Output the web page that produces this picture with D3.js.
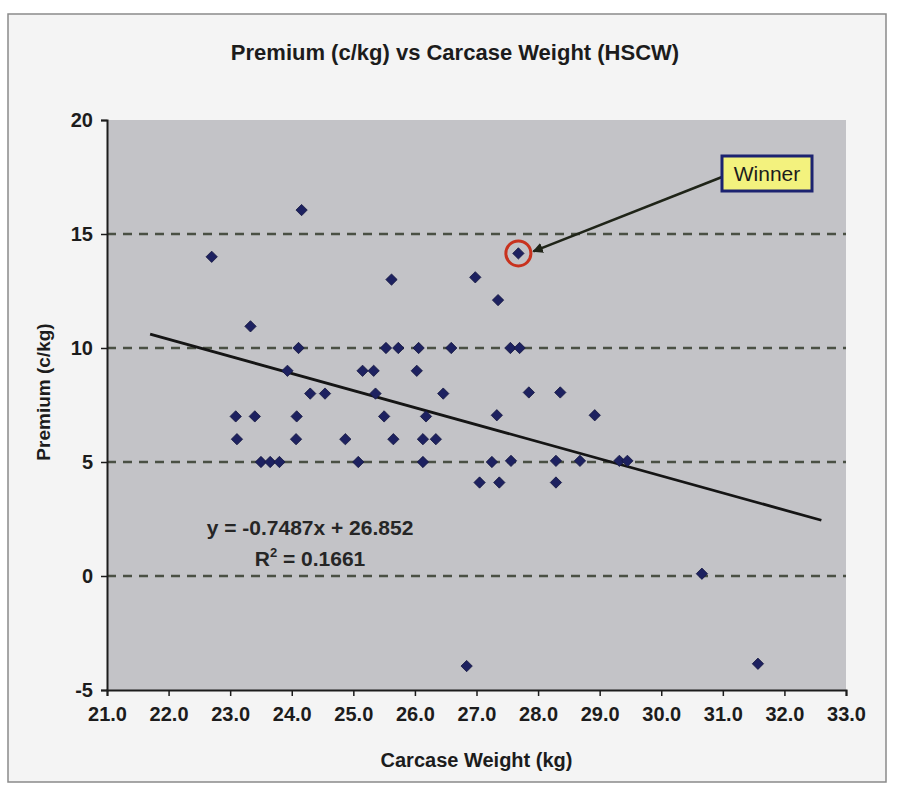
<!DOCTYPE html>
<html>
<head>
<meta charset="utf-8">
<script src="https://cdn.jsdelivr.net/npm/d3@7"></script>
<style>
  html, body { margin: 0; padding: 0; background: #ffffff; }
  svg { display: block; }
  text { font-family: "Liberation Sans", Arial, Helvetica, sans-serif; }
</style>
</head>
<body>
<svg id="chart" width="900" height="791"></svg>
<script>
// ---- data ----
const weights = [22.7, 24.16, 23.33, 25.62, 26.98, 27.35, 27.68,
  24.11, 25.53, 25.73, 26.06, 26.59, 27.55, 27.7,
  23.93, 25.15, 25.33, 26.03,
  24.30, 24.54, 25.36, 26.46, 27.85, 28.36,
  23.09, 23.40, 24.08, 25.50, 26.18, 27.33, 28.92,
  23.11, 24.07, 24.87, 25.65, 26.13, 26.34,
  23.5, 23.65, 23.8, 25.08, 26.13, 27.25, 27.56, 28.29, 28.68, 29.32, 29.45,
  27.05, 27.37, 28.29,
  26.84, 30.66, 31.57];
const premiums = [14.0, 16.05, 10.95, 13.0, 13.1, 12.1, 14.15,
  10.0, 10.0, 10.0, 10.0, 10.0, 10.0, 10.0,
  9.0, 9.0, 9.0, 9.0,
  8.0, 8.0, 8.0, 8.0, 8.05, 8.05,
  7.0, 7.0, 7.0, 7.0, 7.0, 7.05, 7.05,
  6.0, 6.0, 6.0, 6.0, 6.0, 6.0,
  5.0, 5.0, 5.0, 5.0, 5.0, 5.0, 5.05, 5.05, 5.05, 5.05, 5.05,
  4.1, 4.1, 4.1,
  -3.95, 0.1, -3.85];
const winner = [27.68, 14.15];
const xTicks = [21, 22, 23, 24, 25, 26, 27, 28, 29, 30, 31, 32, 33];
const yTicks = [-5, 0, 5, 10, 15, 20];
const gridValues = [0, 5, 10, 15];
const trendSlope = -0.7487;
const trendIntercept = 26.852;
const trendRange = [21.7, 32.6];
const titleText = "Premium (c/kg) vs Carcase Weight (HSCW)";
const xTitle = "Carcase Weight (kg)";
const yTitle = "Premium (c/kg)";
const eqLine1 = "y = -0.7487x + 26.852";
const rSquared = "0.1661";
const winnerLabel = "Winner";

// ---- layout ----
const svg = d3.select("#chart");
const plot = { left: 107, right: 846, top: 120, bottom: 690 };
const x = d3.scaleLinear().domain([21, 33]).range([plot.left, plot.right]);
const y = d3.scaleLinear().domain([-5, 20]).range([plot.bottom, plot.top]);
const ink = "#1c1c1c";

// page / chart frame
svg.append("rect").attr("x", 0).attr("y", 0).attr("width", 900).attr("height", 791).attr("fill", "#ffffff");
svg.append("rect").attr("x", 8).attr("y", 14).attr("width", 878).attr("height", 768)
  .attr("fill", "#f4f4f4").attr("stroke", "#8a8a8a").attr("stroke-width", 1.5);

// title
svg.append("text").attr("x", 455).attr("y", 60).attr("text-anchor", "middle")
  .attr("font-size", 22).attr("font-weight", "bold").attr("fill", ink).text(titleText);

// plot area
svg.append("rect").attr("x", plot.left).attr("y", plot.top)
  .attr("width", plot.right - plot.left).attr("height", plot.bottom - plot.top)
  .attr("fill", "#c3c3c7");

// dashed gridlines
svg.append("g").selectAll("line").data(gridValues).join("line")
  .attr("x1", plot.left).attr("x2", plot.right)
  .attr("y1", d => y(d)).attr("y2", d => y(d))
  .attr("stroke", "#4a5044").attr("stroke-width", 2.4)
  .attr("stroke-dasharray", "9,7");

// axes
const xAxis = d3.axisBottom(x).tickValues(xTicks).tickFormat(d3.format(".1f")).tickSize(6).tickPadding(11);
const yAxis = d3.axisLeft(y).tickValues(yTicks).tickFormat(d => String(d)).tickSize(6).tickPadding(8);
const gx = svg.append("g").attr("transform", `translate(0,${plot.bottom})`).call(xAxis);
const gy = svg.append("g").attr("transform", `translate(${plot.left},0)`).call(yAxis);
[gx, gy].forEach(g => {
  g.select(".domain").attr("stroke", ink).attr("stroke-width", 2);
  g.selectAll(".tick line").attr("stroke", ink).attr("stroke-width", 1.5);
  g.selectAll(".tick text").attr("fill", ink).attr("font-size", 20).attr("font-weight", "bold")
    .attr("font-family", "'Liberation Sans', Arial, sans-serif");
});

// axis titles
svg.append("text").attr("x", x(27)).attr("y", 767).attr("text-anchor", "middle")
  .attr("font-size", 20).attr("font-weight", "bold").attr("fill", ink).text(xTitle);
svg.append("text").attr("transform", `translate(50,392) rotate(-90)`)
  .attr("text-anchor", "middle").attr("font-size", 19).attr("font-weight", "bold").attr("fill", ink).text(yTitle);

// trendline
const line = d3.line().x(d => x(d)).y(d => y(trendSlope * d + trendIntercept));
svg.append("path").datum(trendRange).attr("d", line)
  .attr("fill", "none").attr("stroke", "#151515").attr("stroke-width", 2.8);

// points (square diamonds)
const squareDiamond = {
  draw(ctx, size) {
    const r = Math.sqrt(size / 2);
    ctx.moveTo(0, -r); ctx.lineTo(r, 0); ctx.lineTo(0, r); ctx.lineTo(-r, 0); ctx.closePath();
  }
};
const pts = weights.map((w, i) => [w, premiums[i]]);
svg.append("g").selectAll("path").data(pts).join("path")
  .attr("transform", d => `translate(${x(d[0])},${y(d[1])})`)
  .attr("d", d3.symbol().type(squareDiamond).size(64))
  .attr("fill", "#1d2160").attr("stroke", "#14173f").attr("stroke-width", 0.8);

// equation
svg.append("text").attr("x", 310).attr("y", 535).attr("text-anchor", "middle")
  .attr("font-size", 21).attr("font-weight", "bold").attr("fill", "#262626").text(eqLine1);
const r2 = svg.append("text").attr("x", 310).attr("y", 566).attr("text-anchor", "middle")
  .attr("font-size", 21).attr("font-weight", "bold").attr("fill", "#262626");
r2.append("tspan").text("R");
r2.append("tspan").attr("font-size", 13).attr("dy", -9).text("2");
r2.append("tspan").attr("dy", 9).text(" = " + rSquared);

// winner annotation
const wx = x(winner[0]), wy = y(winner[1]);
svg.append("circle").attr("cx", wx).attr("cy", wy).attr("r", 12.5)
  .attr("fill", "none").attr("stroke", "#c8321e").attr("stroke-width", 3);
svg.append("defs").append("marker").attr("id", "ah").attr("viewBox", "0 0 10 10")
  .attr("refX", 9).attr("refY", 5).attr("markerWidth", 4).attr("markerHeight", 4)
  .attr("orient", "auto").append("path").attr("d", "M0,0 L10,5 L0,10 Z").attr("fill", "#1f2418");
const box = { x: 722, y: 156, w: 90, h: 35 };
svg.append("line").attr("x1", box.x).attr("y1", box.y + 21).attr("x2", wx + 15).attr("y2", wy - 2)
  .attr("stroke", "#1f2418").attr("stroke-width", 2.6).attr("marker-end", "url(#ah)");
svg.append("rect").attr("x", box.x).attr("y", box.y).attr("width", box.w).attr("height", box.h)
  .attr("fill", "#f3f27e").attr("stroke", "#1c2370").attr("stroke-width", 3);
svg.append("text").attr("x", box.x + box.w / 2).attr("y", box.y + 25).attr("text-anchor", "middle")
  .attr("font-size", 21).attr("fill", "#1c1c1c").text(winnerLabel);
</script>
</body>
</html>
